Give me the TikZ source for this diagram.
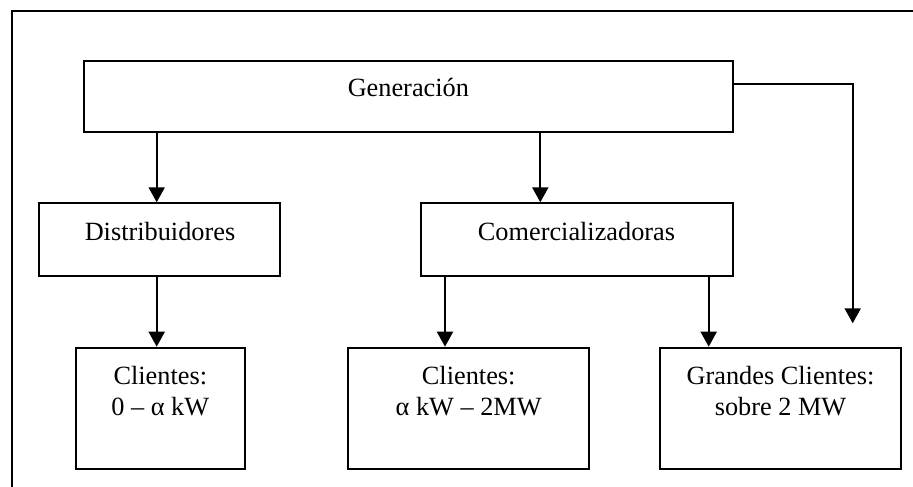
\documentclass[tikz,border=0pt]{standalone}
\usepackage{fontspec}
\setmainfont{Liberation Serif}
\usetikzlibrary{arrows.meta}
\begin{document}
\begin{tikzpicture}[x=1pt,y=-1pt,
  box/.style={draw, line width=2pt, inner sep=0pt, rectangle},
  lbl/.style={font=\fontsize{26.3}{30.7}\selectfont, align=center, anchor=base, inner sep=0pt},
  arr/.style={line width=2pt, -{Triangle[width=16pt,length=15pt]}},
  wire/.style={line width=2pt}]
\useasboundingbox (0,0) rectangle (913,487);
\clip (0,0) rectangle (913,487);

% outer frame, running past the right and bottom edges
\draw[wire] (11.7,11) rectangle (930,500);

% boxes
\node[box, minimum width=648.7pt, minimum height=71.6pt] (gen) at (408.35,96.5) {};
\node[box, minimum width=240.7pt, minimum height=72.7pt] (dist) at (159.65,239.65) {};
\node[box, minimum width=312pt, minimum height=72.7pt] (com) at (576.7,239.65) {};
\node[box, minimum width=168.7pt, minimum height=121pt] (c1) at (160.65,408.2) {};
\node[box, minimum width=240.7pt, minimum height=121pt] (c2) at (468.65,408.2) {};
\node[box, minimum width=241pt, minimum height=121pt] (c3) at (780.5,408.2) {};

% labels (base anchor sits on the last line of a two-line label)
\node[lbl] (gent) at (408.35,96.7) {Generación};
\node[lbl] (distt) at (160,240.7) {Distribuidores};
\node[lbl] (comt) at (576.5,240.7) {Comercializadoras};
\node[lbl] (c1t) at (160.3,415) {Clientes:\\0 – α kW};
\node[lbl] (c2t) at (468.7,415) {Clientes:\\α kW – 2MW};
\node[lbl] (c3t) at (780.5,415) {Grandes Clientes:\\sobre 2 MW};

% connector columns
\coordinate (xa) at (156.7,0);
\coordinate (xb) at (540.3,0);
\coordinate (xc) at (445,0);
\coordinate (xd) at (708.7,0);
\coordinate (bend) at (852.7,84.3);
\coordinate (tip) at (852.7,323.3);

% connectors
\draw[arr] (gen.south -| xa) -- (dist.north -| xa);
\draw[arr] (gen.south -| xb) -- (com.north -| xb);
\draw[arr] (dist.south -| xa) -- (c1.north -| xa);
\draw[arr] (com.south -| xc) -- (c2.north -| xc);
\draw[arr] (com.south -| xd) -- (c3.north -| xd);
\draw[arr] (gen.east |- bend) -- (bend) -- (tip);
\end{tikzpicture}
\end{document}
